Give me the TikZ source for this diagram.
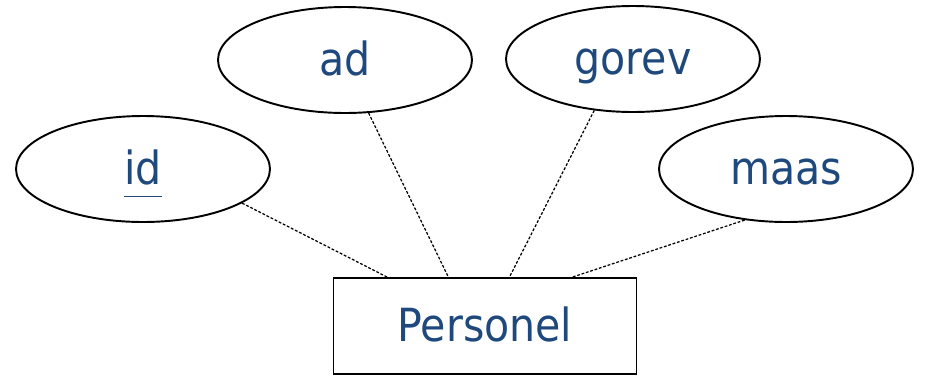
\documentclass[tikz,border=0pt]{standalone}
\usepackage{fontspec}
\setmainfont{DejaVu Sans Condensed}
\usetikzlibrary{calc,shapes.geometric}
\definecolor{erblue}{RGB}{31,73,125}
\tikzset{
  attr/.style={draw, ellipse, line width=1.1pt, minimum width=5.08cm, minimum height=2.12cm, inner sep=0pt, text height=0.8cm, text depth=0.2cm, text=erblue, font=\fontsize{26}{30}\selectfont},
  entity/.style={draw, rectangle, line width=0.8pt, minimum width=6.06cm, minimum height=1.92cm, inner sep=0pt, text height=0.8cm, text depth=0.2cm, text=erblue, font=\fontsize{26}{30}\selectfont},
  link/.style={line width=0.7pt, dash pattern=on 1.6pt off 1pt}
}

\begin{document}
\begin{tikzpicture}[x=0.02cm, y=-0.02cm]
		%%%%% START %%%%%
		\useasboundingbox (0, 0) rectangle (926, 376);
		
		\node[entity] (personel) at (485, 326) {Personel};
		
		\node[attr] (id) at (143, 169) {\underline{id\vphantom{p}}};
		\node[attr] (ad) at (345, 60) {ad};
		\node[attr] (gorev) at (633, 59) {gorev};
		\node[attr] (maas) at (786, 169) {maas};
		
		\coordinate (p1) at ($(personel.north west)!0.18!(personel.north east)$);
		\coordinate (p2) at ($(personel.north west)!0.38!(personel.north east)$);
		\coordinate (p3) at ($(personel.north west)!0.58!(personel.north east)$);
		\coordinate (p4) at ($(personel.north west)!0.785!(personel.north east)$);
		
		\draw[link] (id.-19) -- (p1);
		\draw[link] (ad.-66) -- (p2);
		\draw[link] (gorev.-127) -- (p3);
		\draw[link] (maas.-129) -- (p4);
		%%%%% END %%%%%
\end{tikzpicture}
\end{document}
